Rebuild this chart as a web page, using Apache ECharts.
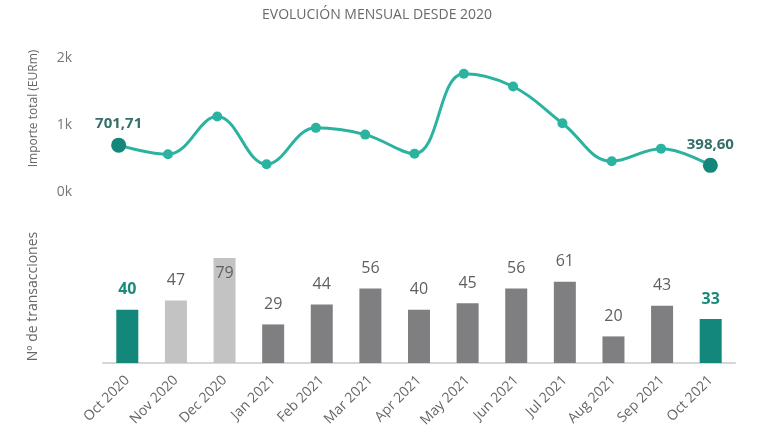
<!DOCTYPE html>
<html>
<head>
<meta charset="utf-8">
<script src="https://cdn.jsdelivr.net/npm/echarts@6/dist/echarts.min.js"></script>
<style>
  html, body { margin: 0; padding: 0; background: #fff; }
  #chart { width: 780px; height: 440px; }
</style>
</head>
<body>
<div id="chart"></div>
<script>
// months shown on the x axis
var months = ['Oct 2020', 'Nov 2020', 'Dec 2020', 'Jan 2021', 'Feb 2021', 'Mar 2021', 'Apr 2021',
  'May 2021', 'Jun 2021', 'Jul 2021', 'Aug 2021', 'Sep 2021', 'Oct 2021']
// importe total (EURm)
var importe = [701.71, 565, 1129, 415, 960, 859, 574, 1769, 1579, 1030, 460, 649, 398.60]
// nº de transacciones
var transacciones = [40, 47, 79, 29, 44, 56, 40, 45, 56, 61, 20, 43, 33]
var importeTicks = [0, 1000, 2000]

var TEAL_LINE = '#2bb3a0'
var TEAL_DARK = '#13877a'
var GRAY_LIGHT = '#c3c3c3'
var GRAY_DARK = '#7f7e80'
var last = months.length - 1

function isEnd(i) {
  return i === 0 || i === last
}
function barColor(i) {
  if (isEnd(i)) return TEAL_DARK
  if (i === 1 || i === 2) return GRAY_LIGHT
  return GRAY_DARK
}
function fmtEUR(v) {
  return v.toFixed(2).replace('.', ',')
}

var chart = echarts.init(document.getElementById('chart'))

var lineData = importe.map(function(v, i) {
  if (!isEnd(i)) return v
  return {
    value: v,
    symbolSize: 15,
    itemStyle: { color: TEAL_DARK },
    label: {
      show: true,
      position: 'top',
      distance: 6,
      formatter: function(p) { return fmtEUR(p.value) },
      fontSize: 15,
      fontWeight: 'bold',
      color: '#33706a'
    }
  }
})

var barData = transacciones.map(function(v, i) {
  var item = {
    value: v,
    itemStyle: { color: barColor(i) },
    label: {
      color: isEnd(i) ? '#1a8a7c' : '#5f5f5f',
      fontWeight: isEnd(i) ? 'bold' : 'normal'
    }
  }
  // biggest bar reaches the top of the plot, so its label sits inside
  if (v === Math.max.apply(null, transacciones)) {
    item.label.position = 'insideTop'
    item.label.distance = 8
  }
  return item
})

chart.setOption({
  animation: false,
  textStyle: { fontFamily: 'Open Sans' },
  title: {
    text: 'EVOLUCIÓN MENSUAL DESDE 2020',
    left: 257,
    top: 3,
    textStyle: { fontSize: 14, fontWeight: 'normal', color: '#6a6a6a' }
  },
  grid: [
    { left: 94, right: 45, top: 25, height: 167 },
    { left: 103, right: 45, top: 230, height: 133 }
  ],
  xAxis: [
    {
      type: 'category',
      gridIndex: 0,
      data: months,
      boundaryGap: true,
      show: false
    },
    {
      type: 'category',
      gridIndex: 1,
      data: months,
      boundaryGap: true,
      axisTick: { show: false },
      axisLine: { lineStyle: { color: '#d6d6d6', width: 2 } },
      axisLabel: { rotate: 45, margin: 15, fontSize: 14, color: '#666', interval: 0 }
    }
  ],
  yAxis: [
    {
      type: 'value',
      gridIndex: 0,
      min: 0,
      max: 2500,
      interval: 1000,
      name: 'Importe total (EURm)',
      nameLocation: 'middle',
      nameGap: 54,
      nameTextStyle: { fontSize: 12, color: '#666' },
      axisLine: { show: false },
      axisTick: { show: false },
      splitLine: { show: false },
      axisLabel: {
        fontSize: 14,
        color: '#777',
        margin: 22,
        formatter: function(v) {
          return importeTicks.indexOf(v) >= 0 ? (v / 1000) + 'k' : ''
        }
      }
    },
    {
      type: 'value',
      gridIndex: 1,
      min: 0,
      max: 100,
      name: 'Nº de transacciones',
      nameLocation: 'middle',
      nameGap: 63,
      nameTextStyle: { fontSize: 14, color: '#666' },
      axisLine: { show: false },
      axisTick: { show: false },
      splitLine: { show: false },
      axisLabel: { show: false }
    }
  ],
  series: [
    {
      type: 'line',
      xAxisIndex: 0,
      yAxisIndex: 0,
      data: lineData,
      smooth: 0.4,
      symbol: 'circle',
      symbolSize: 10,
      lineStyle: { color: TEAL_LINE, width: 3 },
      itemStyle: { color: TEAL_LINE }
    },
    {
      type: 'bar',
      xAxisIndex: 1,
      yAxisIndex: 1,
      data: barData,
      barWidth: 22,
      label: {
        show: true,
        position: 'top',
        distance: 12,
        fontSize: 16
      }
    }
  ]
})
</script>
</body>
</html>
